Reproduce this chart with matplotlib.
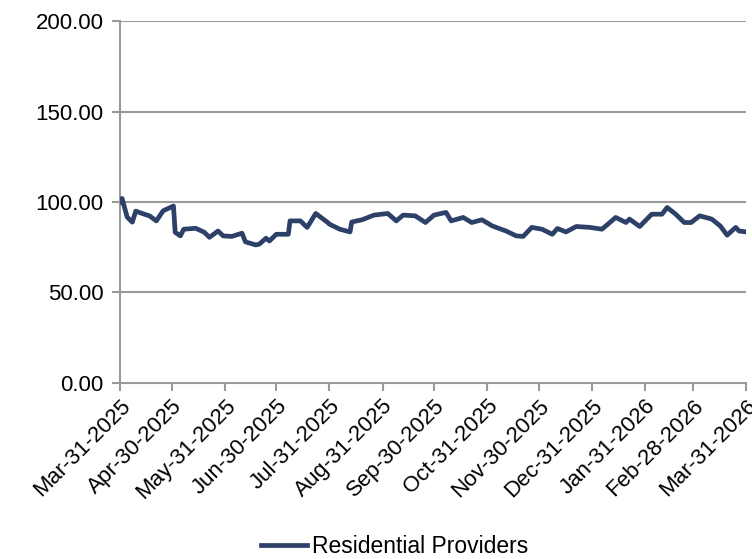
import matplotlib
matplotlib.use("Agg")
import matplotlib.pyplot as plt
import pandas as pd
from matplotlib.ticker import FormatStrFormatter

plt.rcParams["font.family"] = ["Liberation Sans", "DejaVu Sans"]

dates = [
    "2025-03-31", "2025-04-01", "2025-04-04", "2025-04-07", "2025-04-09", "2025-04-14",
    "2025-04-17", "2025-04-21", "2025-04-25", "2025-05-01", "2025-05-02", "2025-05-05",
    "2025-05-07", "2025-05-14", "2025-05-19", "2025-05-22", "2025-05-27", "2025-05-30",
    "2025-06-04", "2025-06-08", "2025-06-10", "2025-06-12", "2025-06-18", "2025-06-20",
    "2025-06-24", "2025-06-26", "2025-06-30", "2025-07-07", "2025-07-08", "2025-07-14",
    "2025-07-18", "2025-07-23", "2025-07-30", "2025-07-31", "2025-08-06", "2025-08-12",
    "2025-08-13", "2025-08-19", "2025-08-26", "2025-09-03", "2025-09-08", "2025-09-12",
    "2025-09-19", "2025-09-25", "2025-09-30", "2025-10-07", "2025-10-10", "2025-10-17",
    "2025-10-22", "2025-10-28", "2025-11-03", "2025-11-11", "2025-11-17", "2025-11-21",
    "2025-11-26", "2025-12-02", "2025-12-08", "2025-12-11", "2025-12-16", "2025-12-22",
    "2025-12-30", "2026-01-06", "2026-01-14", "2026-01-20", "2026-01-22", "2026-01-28",
    "2026-02-04", "2026-02-10", "2026-02-13", "2026-02-18", "2026-02-23", "2026-02-27",
    "2026-03-04", "2026-03-11", "2026-03-16", "2026-03-20", "2026-03-25", "2026-03-27",
    "2026-03-31",
]
values = [
    100.2, 102.0, 91.7, 88.9, 95.0, 93.3,
    92.4, 89.6, 95.2, 97.8, 83.3, 81.3,
    85.0, 85.5, 83.3, 80.5, 84.0, 81.3,
    81.0, 82.2, 82.8, 78.0, 76.3, 76.7,
    80.0, 78.5, 82.2, 82.2, 89.6, 89.6,
    86.0, 93.7, 88.7, 87.8, 85.0, 83.5,
    89.0, 90.2, 92.8, 93.7, 89.6, 92.8,
    92.4, 88.7, 92.8, 94.3, 89.6, 91.5,
    88.7, 90.2, 86.8, 84.0, 81.3, 81.0,
    86.0, 85.0, 82.2, 85.4, 83.5, 86.5,
    86.0, 85.0, 91.5, 88.7, 90.6, 86.5,
    93.3, 93.3, 97.0, 93.3, 88.7, 88.7,
    92.4, 90.6, 86.8, 81.7, 86.0, 84.0,
    83.5,
]
tick_dates = [
    "2025-03-31", "2025-04-30", "2025-05-31", "2025-06-30", "2025-07-31", "2025-08-31",
    "2025-09-30", "2025-10-31", "2025-11-30", "2025-12-31", "2026-01-31", "2026-02-28",
    "2026-03-31",
]
y_ticks = [0, 50, 100, 150, 200]
series_name = "Residential Providers"

x = pd.to_datetime(dates)
xt = pd.to_datetime(tick_dates)

fig = plt.figure(figsize=(7.52, 5.59), dpi=100)
ax = fig.add_axes([0.16, 0.315, 0.832, 0.647])

grid_c = "#9a9a9a"
for v in y_ticks[1:]:
    ax.axhline(v, color=grid_c, lw=1.5, zorder=1)

ax.plot(x, values, color="#2c4068", lw=3.4, solid_joinstyle="round",
        label=series_name, zorder=3)

ax.set_ylim(0, 200)
ax.set_yticks(y_ticks)
ax.yaxis.set_major_formatter(FormatStrFormatter("%.2f"))
ax.set_xlim(xt[0], xt[-1])
ax.set_xticks(xt)
ax.set_xticklabels([d.strftime("%b-%d-%Y") for d in xt], rotation=45,
                   ha="right", rotation_mode="anchor")

for s in ("top", "right"):
    ax.spines[s].set_visible(False)
for s in ("left", "bottom"):
    ax.spines[s].set_color(grid_c)
    ax.spines[s].set_linewidth(1.5)
ax.tick_params(axis="both", colors=grid_c, labelcolor="black", labelsize=16,
               length=6, width=1.5, direction="out")
ax.tick_params(axis="y", pad=6)
ax.tick_params(axis="x", pad=3)

fig.legend(loc="lower center", bbox_to_anchor=(0.525, -0.036), frameon=False,
           fontsize=16.5, handlelength=2.0, handletextpad=0.2)

fig.savefig("out.png", dpi=100)
